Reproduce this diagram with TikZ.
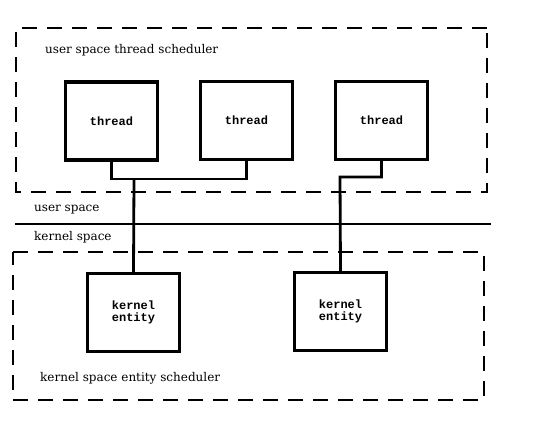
\documentclass[tikz,border=0pt]{standalone}
\usepackage{fontspec}
\newfontfamily\boxfont{Liberation Mono}
\newfontfamily\labelfont{DejaVu Serif}
\usetikzlibrary{positioning}
\tikzset{
  hilo/.style={draw, line width=3.2pt, minimum width=92pt, minimum height=78pt, font=\boxfont\bfseries\fontsize{12}{12}\selectfont, align=center},
  rotulo/.style={anchor=west, inner sep=0pt, font=\labelfont\fontsize{12}{14}\selectfont},
  zona/.style={line width=2.2pt, dash pattern=on 15pt off 10pt},
  enlace/.style={line width=2.8pt},
}

\begin{document}
\begin{tikzpicture}[x=1pt, y=-1pt]
  \useasboundingbox (0,0) rectangle (551,423);
  % upper scheduler area
  \draw[zona] (487,28) -| (16,192) -- (487,192) -- cycle;
  \node[rotulo] (us) at (45,50) {user space thread scheduler};
  \node[hilo] (t1) at (111.5,121) {thread};
  \node[hilo] (t2) at (246.5,120.5) {thread};
  \node[hilo] (t3) at (381.5,120.5) {thread};
  % boundary
  \node[rotulo] (uspace) at (34,210) {user space};
  \node[rotulo] (kspace) at (34,237) {kernel space};
  \coordinate (bl) at (15,224);
  \coordinate (br) at (491,224);
  \draw[line width=2pt] (bl) -- (br);
  % lower scheduler area
  \draw[zona] (13,252) -| (484,400) -| cycle;
  \node[hilo] (k1) at (133.5,312.5) {kernel\\entity};
  \node[hilo] (k2) at (340.5,311.5) {kernel\\entity};
  \node[rotulo] (ks) at (40,378) {kernel space entity scheduler};
  % connectors
  \coordinate (j1) at (134,179);
  \coordinate (j2) at (340,177);
  \draw[enlace] (t1.south) |- (j1) -| (t2.south);
  \draw[enlace] (j1) -- (k1.north);
  \draw[enlace] (t3.south) |- (j2) -- (k2.north);
\end{tikzpicture}
\end{document}
